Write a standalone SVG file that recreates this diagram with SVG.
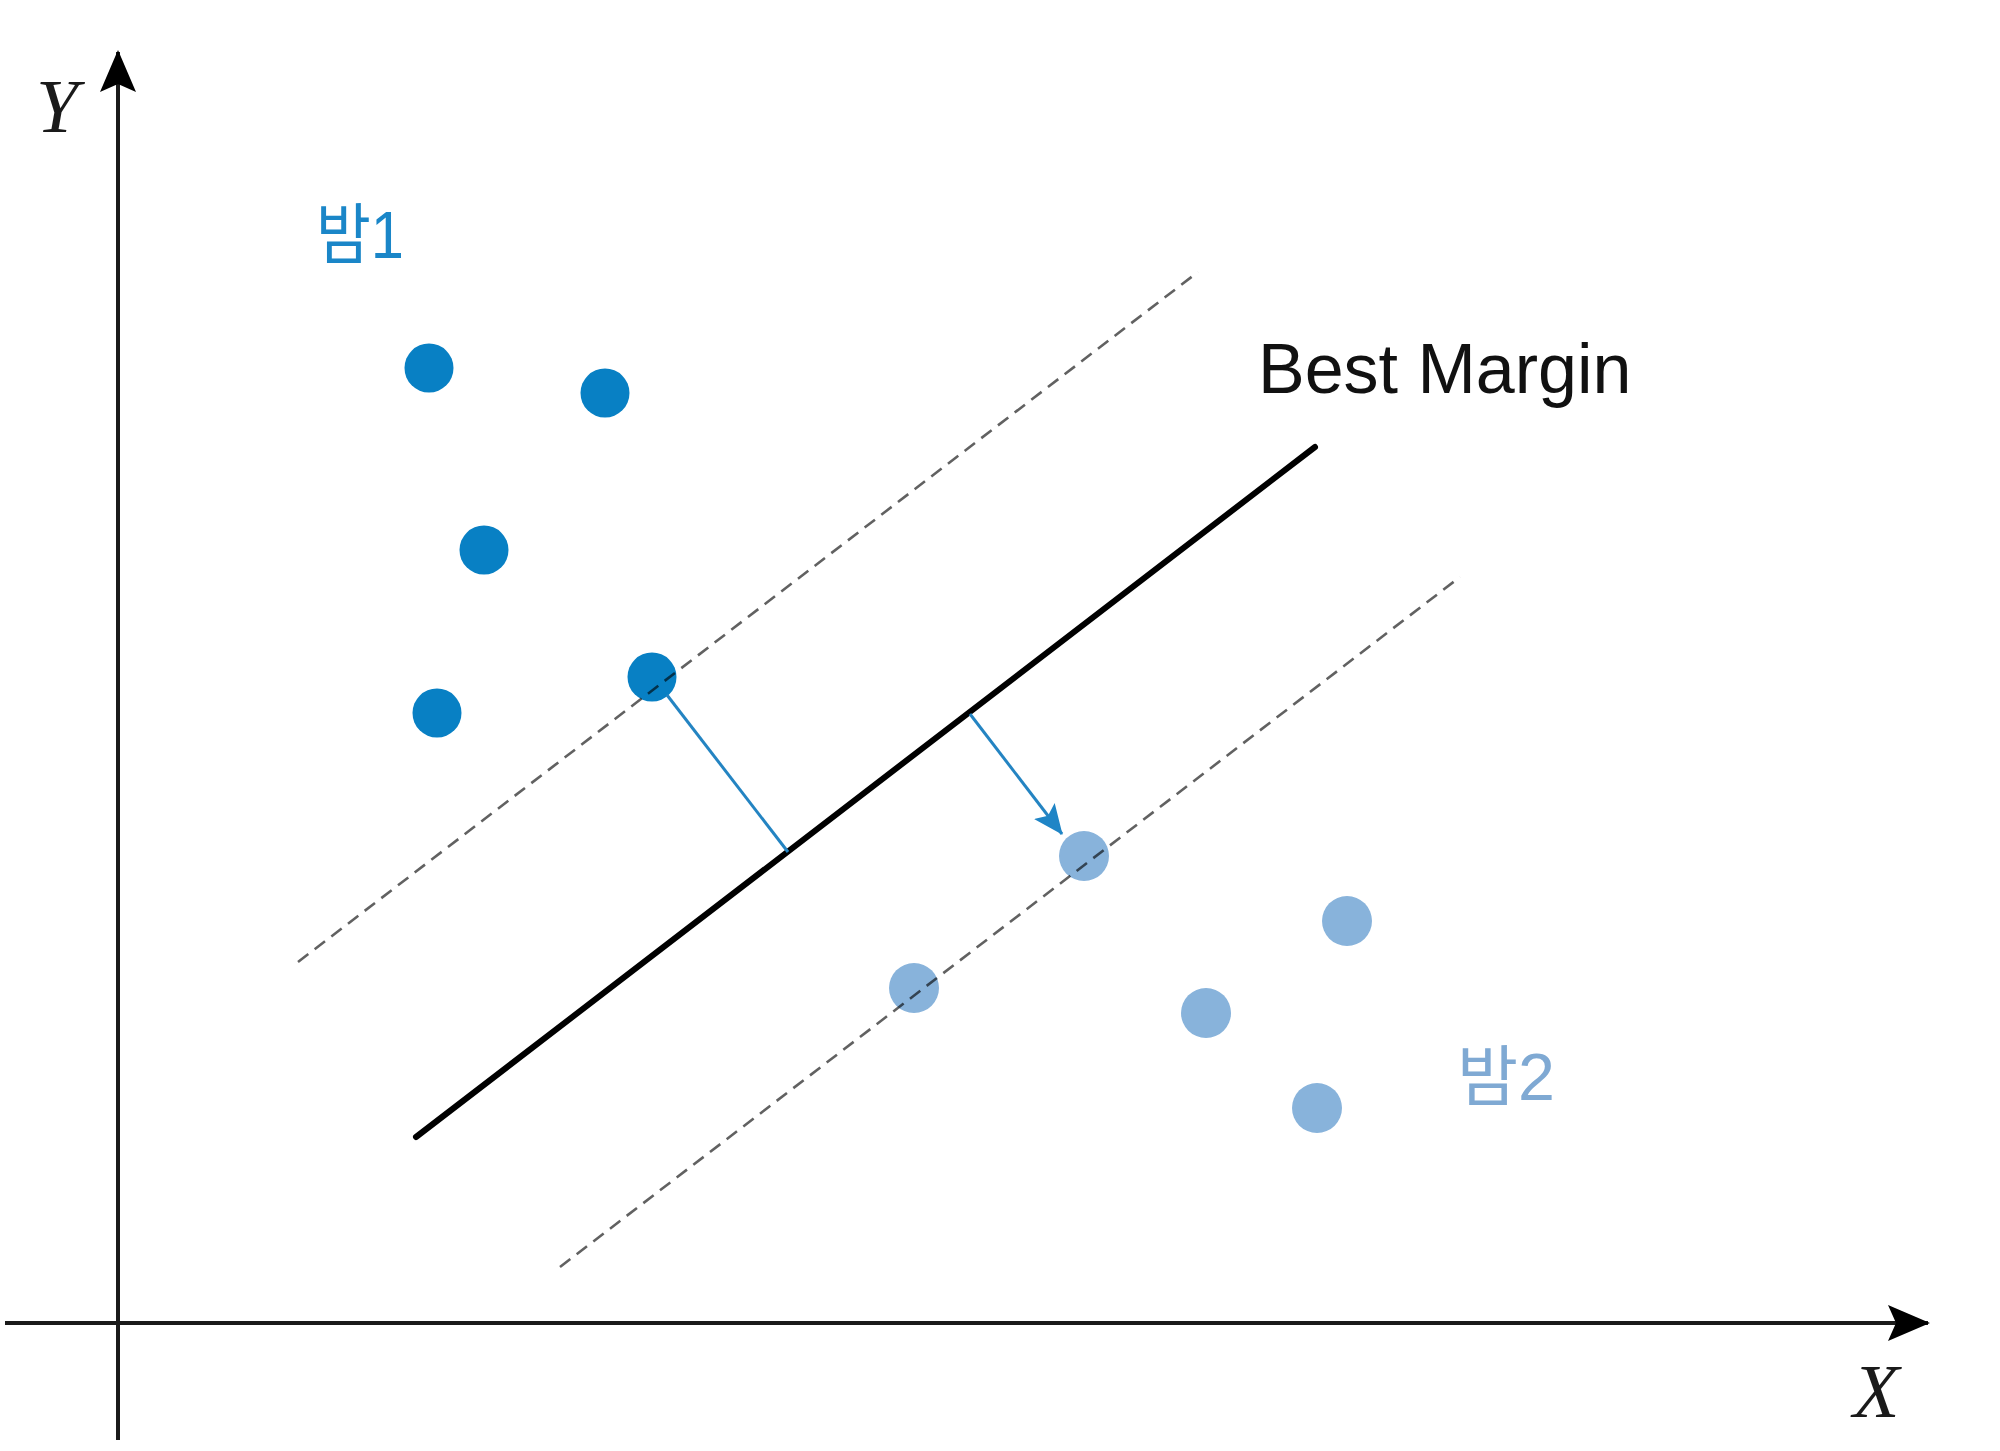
<svg xmlns="http://www.w3.org/2000/svg" width="2000" height="1451" viewBox="0 0 2000 1451">
  <style>
    .axis { stroke: #1a1a1a; stroke-width: 4; fill: none; }
    .dash { stroke: #000; stroke-opacity: 0.62; stroke-width: 2.6; stroke-dasharray: 13 8; fill: none; }
    .best { stroke: #000; stroke-width: 6; stroke-linecap: round; fill: none; }
    .margin { stroke: #2484c2; stroke-width: 3; fill: none; }
    .c1 { fill: #0880c4; }
    .c2 { fill: #88b3db; }
    .axlabel { font-family: "Liberation Serif", "Times New Roman", serif; font-style: italic; font-size: 76px; fill: #1a1a1a; }
    .lbl { font-family: "Liberation Sans", Arial, sans-serif; font-size: 70px; fill: #111; }
    .kr { font-family: "Liberation Sans", "Noto Sans CJK KR", sans-serif; font-size: 66px; }
  </style>
  <defs>
    <marker id="axisHead" viewBox="0 0 42 36" refX="40" refY="18" markerWidth="42" markerHeight="36" markerUnits="userSpaceOnUse" orient="auto">
      <path d="M0,0 L42,18 L0,36 L8,18 Z" fill="#000"/>
    </marker>
    <marker id="blueHead" viewBox="0 0 30 26" refX="29" refY="13" markerWidth="30" markerHeight="26" markerUnits="userSpaceOnUse" orient="auto">
      <path d="M0,0 L30,13 L0,26 L6,13 Z" fill="#1f85c6"/>
    </marker>
  </defs>
  <rect width="2000" height="1451" fill="#fff"/>

  <g id="axes">
    <line class="axis" x1="118" y1="1440" x2="118" y2="52" marker-end="url(#axisHead)"/>
    <line class="axis" x1="5" y1="1323" x2="1928" y2="1323" marker-end="url(#axisHead)"/>
    <text class="axlabel" x="36" y="132">Y</text>
    <text class="axlabel" x="1853" y="1417">X</text>
  </g>

  <g id="class1">
    <circle class="c1" cx="429" cy="368" r="24.5"/>
    <circle class="c1" cx="605" cy="393" r="24.5"/>
    <circle class="c1" cx="484" cy="550" r="24.5"/>
    <circle class="c1" cx="652" cy="677" r="24.5"/>
    <circle class="c1" cx="437" cy="713" r="24.5"/>
    <text class="kr" x="316" y="258" fill="#1a86c8" textLength="88" lengthAdjust="spacingAndGlyphs">밤1</text>
  </g>

  <g id="class2">
    <circle class="c2" cx="1084" cy="856" r="25"/>
    <circle class="c2" cx="914" cy="988" r="25"/>
    <circle class="c2" cx="1206" cy="1013" r="25"/>
    <circle class="c2" cx="1347" cy="921" r="25"/>
    <circle class="c2" cx="1317" cy="1108" r="25"/>
    <text class="kr" x="1457" y="1100" fill="#7fa9d3" textLength="98" lengthAdjust="spacingAndGlyphs">밤2</text>
  </g>

  <g id="connectors">
    <line class="dash" x1="298" y1="962" x2="1198" y2="272"/>
    <line class="dash" x1="560" y1="1267" x2="1460" y2="577"/>
    <line class="best" x1="416" y1="1137" x2="1315" y2="447"/>
    <line class="margin" x1="667" y1="695" x2="788" y2="852"/>
    <line class="margin" x1="970" y1="714" x2="1062" y2="834" marker-end="url(#blueHead)"/>
  </g>

  <g id="best-margin-label">
    <text class="lbl" x="1258" y="393">Best Margin</text>
  </g>
</svg>
